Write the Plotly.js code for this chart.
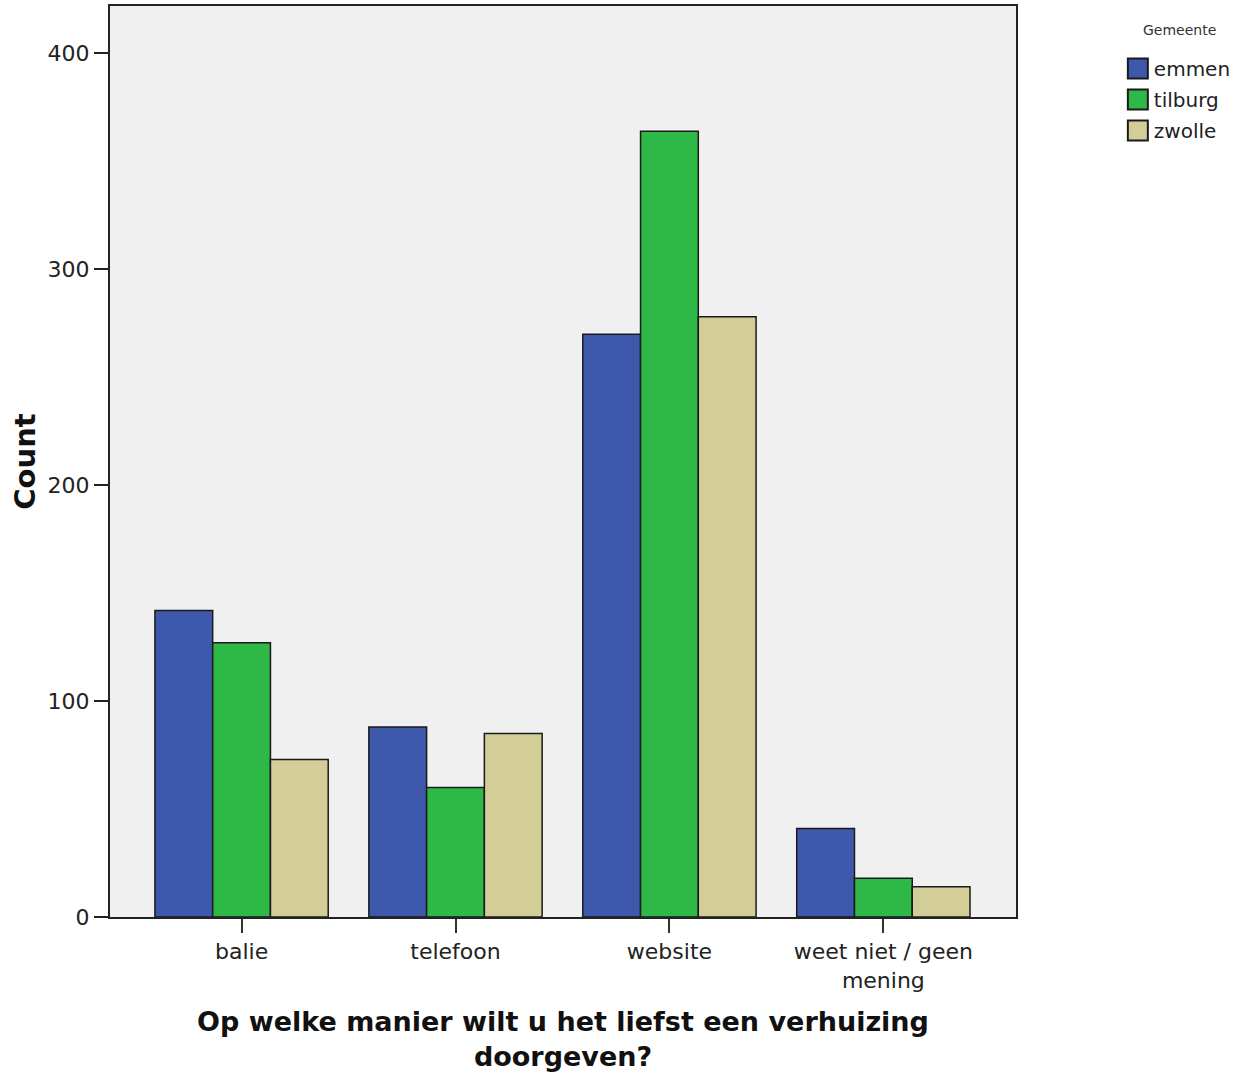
<!DOCTYPE html>
<html>
<head>
<meta charset="utf-8">
<script src="https://cdn.plot.ly/plotly-3.0.1.min.js"></script>
<style>html,body{margin:0;padding:0;background:#fff;}#chart{width:1237px;height:1077px;}</style>
</head>
<body>
<div id="chart"></div>
<script>
const categories = ["balie", "telefoon", "website", "weet niet / geen<br>mening"];
const seriesNames = ["emmen", "tilburg", "zwolle"];
const emmen = [142, 88, 270, 41];
const tilburg = [127, 60, 364, 18];
const zwolle = [73, 85, 278, 14];
const yTicks = [0, 100, 200, 300, 400];
const colors = ["#3E58AC", "#2EB848", "#D3CE97"];
const values = [emmen, tilburg, zwolle];

const traces = seriesNames.map((n, i) => ({
  type: "bar",
  name: n,
  legendgroup: n,
  x: categories,
  y: values[i],
  marker: {color: colors[i], line: {color: "#1a1a1a", width: 1.5}},
  hoverinfo: "x+y+name"
}));

const FONT = "DejaVu Sans, Verdana, sans-serif";
const layout = {
  width: 1237, height: 1077,
  margin: {l: 110, r: 221, t: 6, b: 160, autoexpand: false},
  paper_bgcolor: "#ffffff",
  plot_bgcolor: "#F0F0F0",
  font: {family: FONT, color: "#222", size: 20},
  barmode: "group",
  bargap: 0.19,
  bargroupgap: 0,
  showlegend: true,
  legend: {
    x: 1.108, xanchor: "left", y: 0.9528, yanchor: "top",
    font: {size: 20, color: "#222"},
    traceorder: "grouped",
    tracegroupgap: 2,
    itemwidth: 30,
    bgcolor: "rgba(0,0,0,0)"
  },
  annotations: [{
    text: "Gemeente", xref: "paper", yref: "paper",
    x: (1179 - 110) / 906, y: 1 - (30 - 6) / 911,
    xanchor: "center", yanchor: "middle", showarrow: false,
    font: {size: 14, color: "#333", family: FONT}
  }],
  xaxis: {
    range: [-0.615, 3.62],
    showline: true, linecolor: "#222", linewidth: 2, mirror: true,
    ticks: "outside", ticklen: 14, tickwidth: 2, tickcolor: "#333",
    tickfont: {size: 22, color: "#222", family: FONT},
    title: {text: "<b>Op welke manier wilt u het liefst een verhuizing<br>doorgeven?</b>", font: {size: 27, color: "#111", family: FONT}, standoff: 20},
    fixedrange: true
  },
  yaxis: {
    range: [0, 422],
    showline: true, linecolor: "#222", linewidth: 2, mirror: true,
    showgrid: false, zeroline: false,
    ticks: "outside", ticklen: 14, tickwidth: 2, tickcolor: "#222",
    tickvals: yTicks,
    tickfont: {size: 22, color: "#222", family: FONT},
    title: {text: "<b>Count</b>", font: {size: 29, color: "#111", family: FONT}, standoff: 3},
    fixedrange: true
  }
};

Plotly.newPlot("chart", traces, layout, {displayModeBar: false}).then(() => {
  document.querySelectorAll("#chart .legendpoints path").forEach(p => {
    p.setAttribute("d", "M14,10H-6V-10H14Z");
    p.style.strokeWidth = "2px";
    p.style.stroke = "#1a1a1a";
  });
});
</script>
</body>
</html>
